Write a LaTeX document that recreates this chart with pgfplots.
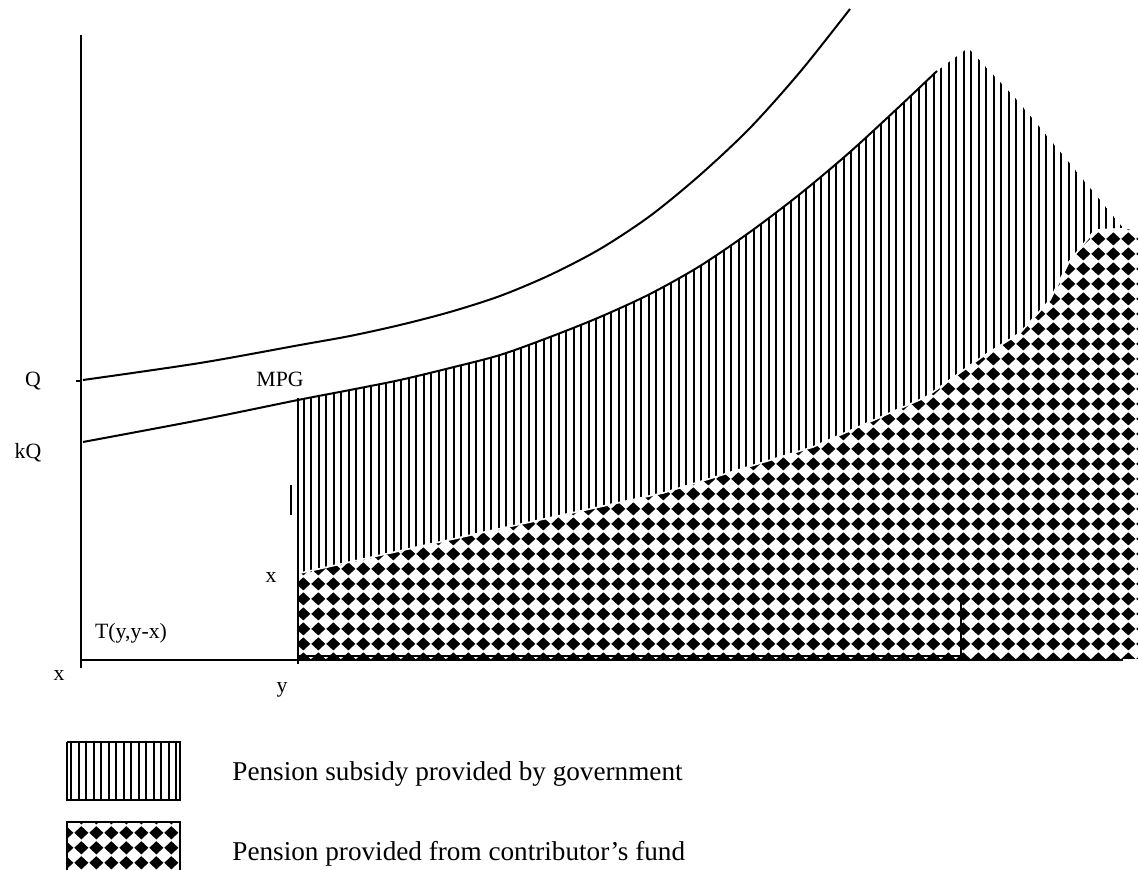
\documentclass[border=0pt]{standalone}
\usepackage{pgfplots}
\pgfplotsset{compat=1.18}
\usetikzlibrary{patterns}
\usepackage{fontspec}
\setmainfont{Liberation Serif}

% 1 px of the reference = 0.5pt
\pgfdeclarepatternformonly{vhatch}{\pgfqpoint{0pt}{-0.5pt}}{\pgfqpoint{3.75pt}{1.5pt}}{\pgfqpoint{3.75pt}{1pt}}{%
  \pgfsetlinewidth{0.9pt}%
  \pgfpathmoveto{\pgfqpoint{1.875pt}{-0.2pt}}%
  \pgfpathlineto{\pgfqpoint{1.875pt}{1.2pt}}%
  \pgfusepath{stroke}}
\pgfdeclarepatternformonly{diamonds}{\pgfpointorigin}{\pgfqpoint{7.4pt}{7.3pt}}{\pgfqpoint{7.4pt}{7.3pt}}{%
  \pgfpathmoveto{\pgfqpoint{0.15pt}{3.65pt}}%
  \pgfpathlineto{\pgfqpoint{3.7pt}{0.3pt}}%
  \pgfpathlineto{\pgfqpoint{7.25pt}{3.65pt}}%
  \pgfpathlineto{\pgfqpoint{3.7pt}{7.0pt}}%
  \pgfpathclose
  \pgfusepath{fill}}

\newcommand{\lab}{\fontsize{10.9}{12}\selectfont}
\newcommand{\leg}{\fontsize{13.6}{15}\selectfont}

\begin{document}
\begin{tikzpicture}
\begin{axis}[
    hide axis,
    scale only axis,
    width=569.5pt, height=435pt,
    xmin=0, xmax=1139,
    ymin=0, ymax=870,
    y dir=reverse,
    clip=false,
]
\coordinate (bl) at (axis cs:0,870);
\coordinate (tr) at (axis cs:1139,0);

% subsidy area (hatched)
\addplot[draw=none, pattern=vhatch] coordinates {
    (298,575) (298,400) (350,390) (400,380) (450,368) (500,355)
    (550,337) (600,317) (650,294) (700,266) (750,232) (800,194)
    (850,152) (900,106) (937,71) (968,48) (1017,100) (1067,160)
    (1123,228) (1095,230) (1069,262) (1050,300) (1020,333)
    (982,357) (926,397) (813,447) (663,493) (480,533) (298,575)
};

% contributor's fund area (diamonds)
\addplot[draw=white, line width=0.8pt, pattern=diamonds] coordinates {
    (296,574) (480,533) (663,493) (813,447) (926,397) (982,357) (1020,333)
    (1050,300) (1069,262) (1095,230) (1139,228) (1139,660)
    (296,660) (296,574)
};

% Q curve
\addplot[black, line width=1pt, smooth] coordinates {
    (83,380) (200,363) (300,345) (350,336) (400,325) (450,312)
    (500,296) (550,275) (600,249) (650,216) (700,175) (750,128)
    (800,72) (850,9)
};

% kQ curve
\addplot[black, line width=1pt, smooth] coordinates {
    (83,442) (200,420) (298,400) (350,390) (400,380) (450,368)
    (500,355) (550,337) (600,317) (650,294) (700,266) (750,232)
    (800,194) (850,152) (900,106) (937,71)
};

% axes and guide lines
\addplot[black, line width=1pt] coordinates {(81,35) (81,668)};
\addplot[black, line width=1pt] coordinates {(81,660) (1123,660)};
\addplot[black, line width=1pt] coordinates {(81,381) (76,381)};
\addplot[black, line width=1pt] coordinates {(298,398) (298,664)};
\addplot[black, line width=1pt] coordinates {(298,656) (961,656) (961,597)};
\addplot[black, line width=0.7pt] coordinates {(291,485) (291,515)};

% legend boxes
\addplot[black, line width=0.8pt, pattern=vhatch] coordinates {
    (67,742) (180,742) (180,800) (67,800) (67,742)
};
\addplot[black, line width=0.8pt, pattern=diamonds] coordinates {
    (67,875) (67,822) (180,822) (180,875)
};

% labels
\node[font=\lab, inner sep=0] at (axis cs:33,381) {Q};
\node[font=\lab, inner sep=0] at (axis cs:28,453) {kQ};
\node[font=\lab, inner sep=0] at (axis cs:280,379) {MPG};
\node[font=\lab, inner sep=0] at (axis cs:271,577) {x};
\node[font=\lab, inner sep=0] at (axis cs:131,633) {T(y,y-x)};
\node[font=\lab, inner sep=0] at (axis cs:59,675) {x};
\node[font=\lab, inner sep=0] at (axis cs:282,690) {y};
\node[font=\leg, inner sep=0, anchor=base west] at (axis cs:232,780) {Pension subsidy provided by government};
\node[font=\leg, inner sep=0, anchor=base west] at (axis cs:232,860) {Pension provided from contributor’s fund};
\end{axis}
\pgfresetboundingbox
\path (bl) rectangle (tr);
\end{tikzpicture}
\end{document}
